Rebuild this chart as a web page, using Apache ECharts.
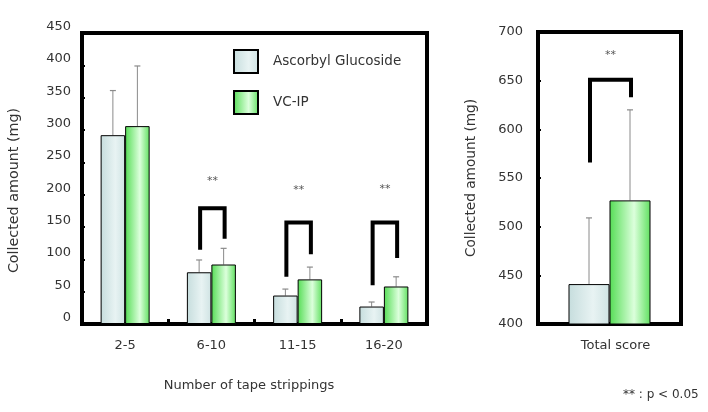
<!DOCTYPE html>
<html><head><meta charset="utf-8">
<script src="https://cdn.jsdelivr.net/npm/echarts@6/dist/echarts.min.js"></script>
<style>html,body{margin:0;padding:0;background:#fff}#c{width:708px;height:412px}</style>
</head><body><div id="c"></div>
<script>
var categories = ['2-5', '6-10', '11-15', '16-20'];
var agMean = [292, 80, 44, 27];
var agSD = [69, 19, 10, 7];
var vcMean = [306, 92, 69, 58];
var vcSD = [93, 25, 19, 15];
var totalCategories = ['Total score'];
var agTotal = [441];
var agTotalSD = [68];
var vcTotal = [527];
var vcTotalSD = [93];
// significance brackets: [category index, left leg bottom, top, right leg bottom, star position]
var bracketsLeft = [[1, 115, 179, 132, 221], [2, 73, 157, 108, 207], [3, 60, 157, 102, 209]];
var bracketsRight = [[0, 566, 651, 633, 676]];
var leftTicks = [0, 450, 50];
var rightTicks = [400, 700, 50];

var FONT = 'DejaVu Sans';
var TXT = '#333';
var agColor = {type:'linear',x:0,y:0,x2:1,y2:0,colorStops:[{offset:0,color:'#c6dddd'},{offset:0.6,color:'#e8f3f3'},{offset:1,color:'#cfe3e3'}]};
var vcColor = {type:'linear',x:0,y:0,x2:1,y2:0,colorStops:[{offset:0,color:'#55dd55'},{offset:0.6,color:'#dcffdc'},{offset:1,color:'#60e060'}]};

function errSeries(name, xi, yi, means, sds, dir, halfW) {
  var data = means.map(function(m, i){ return [i, m, m + sds[i]]; });
  return {
    type:'custom', name: name, xAxisIndex: xi, yAxisIndex: yi, z: 1, silent:true,
    data: data,
    renderItem: function(params, api){
      var p0 = api.coord([api.value(0), api.value(1)]);
      var p1 = api.coord([api.value(0), api.value(2)]);
      var x = p0[0] + dir * halfW;
      return {type:'group', children:[
        {type:'line', shape:{x1:x,y1:p0[1],x2:x,y2:p1[1]}, style:{stroke:'#8a8a8a',lineWidth:1}},
        {type:'line', shape:{x1:x-3,y1:p1[1],x2:x+3,y2:p1[1]}, style:{stroke:'#8a8a8a',lineWidth:1.2}}
      ]};
    }
  };
}
function bracketSeries(xi, yi, br, halfW) {
  return {
    type:'custom', xAxisIndex: xi, yAxisIndex: yi, z: 5, silent:true,
    data: br,
    renderItem: function(params, api){
      var c = api.value(0);
      var pl = api.coord([c, api.value(1)]);
      var pt = api.coord([c, api.value(2)]);
      var pr = api.coord([c, api.value(3)]);
      var ps = api.coord([c, api.value(4)]);
      var xl = pl[0] - halfW + 1, xr = pl[0] + halfW + 1;
      return {type:'group', children:[
        {type:'polyline', shape:{points:[[xl,pl[1]],[xl,pt[1]],[xr,pt[1]],[xr,pr[1]]]}, style:{stroke:'#000',lineWidth:4,fill:null,lineJoin:'miter'}},
        {type:'text', style:{x:ps[0]+1,y:ps[1],text:'**',fill:'#555',font:'11px '+FONT,align:'center',verticalAlign:'middle'}}
      ]};
    }
  };
}

var chart = echarts.init(document.getElementById('c'), null, {renderer:'canvas'});
chart.setOption({
  animation:false,
  backgroundColor:'#fff',
  textStyle:{fontFamily:FONT},
  grid:[
    {left:82, top:33, width:345, height:291, show:true, borderColor:'#000', borderWidth:4, backgroundColor:'transparent'},
    {left:538, top:32, width:143, height:292, show:true, borderColor:'#000', borderWidth:4, backgroundColor:'transparent'}
  ],
  legend:{
    orient:'vertical', left:233, top:49, padding:0, itemWidth:24, itemHeight:23, itemGap:16,
    icon:'rect',
    data:['Ascorbyl Glucoside','VC-IP'],
    textStyle:{fontFamily:FONT, fontSize:13.5, color:TXT, padding:[0,0,0,10]}
  },
  xAxis:[
    {type:'category', gridIndex:0, data:categories,
     axisLine:{show:false}, axisTick:{show:true, inside:true, length:5, lineStyle:{color:'#000', width:3}},
     axisLabel:{fontFamily:FONT, fontSize:13, color:TXT, margin:15},
     name:'Number of tape strippings', nameLocation:'middle', nameGap:55,
     nameTextStyle:{fontFamily:FONT, fontSize:13, color:TXT, padding:[0,11,0,0]}},
    {type:'category', gridIndex:1, data:totalCategories,
     axisLine:{show:false}, axisTick:{show:false},
     axisLabel:{fontFamily:FONT, fontSize:13, color:TXT, margin:15, padding:[0,0,0,12]}}
  ],
  yAxis:[
    {type:'value', gridIndex:0, min:leftTicks[0], max:leftTicks[1], interval:leftTicks[2],
     axisLine:{show:false}, splitLine:{show:false},
     axisTick:{show:true, inside:true, length:3, lineStyle:{color:'#000', width:2}},
     axisLabel:{fontFamily:FONT, fontSize:13, color:TXT, margin:11, verticalAlign:'bottom'},
     name:'Collected amount (mg)', nameLocation:'middle', nameGap:61,
     nameTextStyle:{fontFamily:FONT, fontSize:14.3, color:TXT, padding:[0,24,0,0]}},
    {type:'value', gridIndex:1, min:rightTicks[0], max:rightTicks[1], interval:rightTicks[2],
     axisLine:{show:false}, splitLine:{show:false},
     axisTick:{show:true, inside:true, length:3, lineStyle:{color:'#000', width:2}},
     axisLabel:{fontFamily:FONT, fontSize:13, color:TXT, margin:15},
     name:'Collected amount (mg)', nameLocation:'middle', nameGap:60,
     nameTextStyle:{fontFamily:FONT, fontSize:13.7, color:TXT}}
  ],
  graphic:[
    {type:'text', left:623, top:389, style:{text:'** : p < 0.05', font:'12px '+FONT, fill:TXT}}
  ],
  series:[
    errSeries('e1',0,0,agMean,agSD,-1,12.25),
    errSeries('e2',0,0,vcMean,vcSD,1,12.25),
    errSeries('e3',1,1,agTotal,agTotalSD,-1,20.5),
    errSeries('e4',1,1,vcTotal,vcTotalSD,1,20.5),
    {type:'bar', name:'Ascorbyl Glucoside', xAxisIndex:0, yAxisIndex:0, data:agMean, barWidth:24.5, barGap:'0%', z:2,
     itemStyle:{color:agColor, borderColor:'#000', borderWidth:1}},
    {type:'bar', name:'VC-IP', xAxisIndex:0, yAxisIndex:0, data:vcMean, barWidth:24.5, barGap:'0%', z:2,
     itemStyle:{color:vcColor, borderColor:'#000', borderWidth:1}},
    {type:'bar', name:'Ascorbyl Glucoside', xAxisIndex:1, yAxisIndex:1, data:agTotal, barWidth:41, barGap:'0%', z:2,
     itemStyle:{color:agColor, borderColor:'#000', borderWidth:1}},
    {type:'bar', name:'VC-IP', xAxisIndex:1, yAxisIndex:1, data:vcTotal, barWidth:41, barGap:'0%', z:2,
     itemStyle:{color:vcColor, borderColor:'#000', borderWidth:1}},
    bracketSeries(0,0,bracketsLeft,12.25),
    bracketSeries(1,1,bracketsRight,20.5)
  ]
});
</script></body></html>
